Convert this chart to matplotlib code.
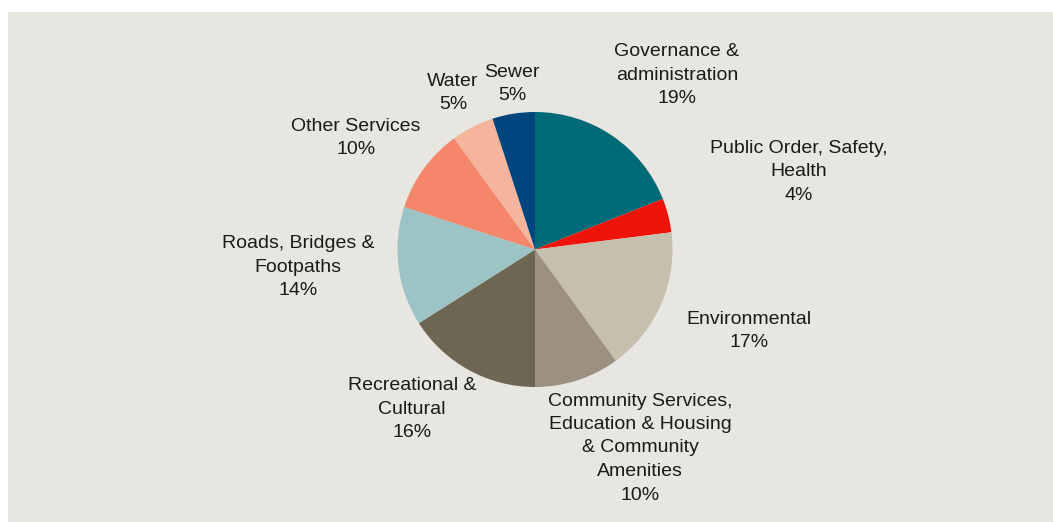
import matplotlib
matplotlib.use('Agg')
import matplotlib.pyplot as plt
from matplotlib.patches import Rectangle

plt.rcParams['font.family'] = ['Liberation Sans', 'DejaVu Sans']

categories = ['Governance &\nadministration', 'Public Order, Safety,\nHealth', 'Environmental',
              'Community Services,\nEducation & Housing\n& Community\nAmenities',
              'Recreational &\nCultural', 'Roads, Bridges &\nFootpaths', 'Other Services',
              'Water', 'Sewer']
shares = [19, 4, 17, 10, 16, 14, 10, 5, 5]
colors = ['#006B78', '#EE1409', '#C6BFAD', '#9C9180', '#6E6652',
          '#9DC3C6', '#F4866A', '#F7B49C', '#00457E']

# label anchor points in pixels (x, y from top)
label_pos = [(677, 75), (799, 172), (749, 331), (640, 448), (412, 409),
             (298, 267), (356, 138), (453, 93), (512, 84)]

W, H = 1053, 522
fig = plt.figure(figsize=(W / 100, H / 100), dpi=100)
fig.patch.set_facecolor('white')

ax = fig.add_axes([0, 0, 1, 1])
ax.set_facecolor('none')
ax.add_patch(Rectangle((8, 0), W - 8, H - 12, facecolor='#E8E6E1', edgecolor='none', zorder=0))

ax.pie(shares, colors=colors, startangle=90, counterclock=False,
       center=(535, H - 249.5), radius=137.5, wedgeprops=dict(linewidth=0))

for name, val, (x, y) in zip(categories, shares, label_pos):
    ax.text(x, H - y, f'{name}\n{val}%', ha='center', va='center', fontsize=14,
            color='#1a1a1a', linespacing=1.5)

ax.set_xlim(0, W)
ax.set_ylim(0, H)
ax.set_aspect('equal')
ax.axis('off')

fig.savefig('out.png', dpi=100)
